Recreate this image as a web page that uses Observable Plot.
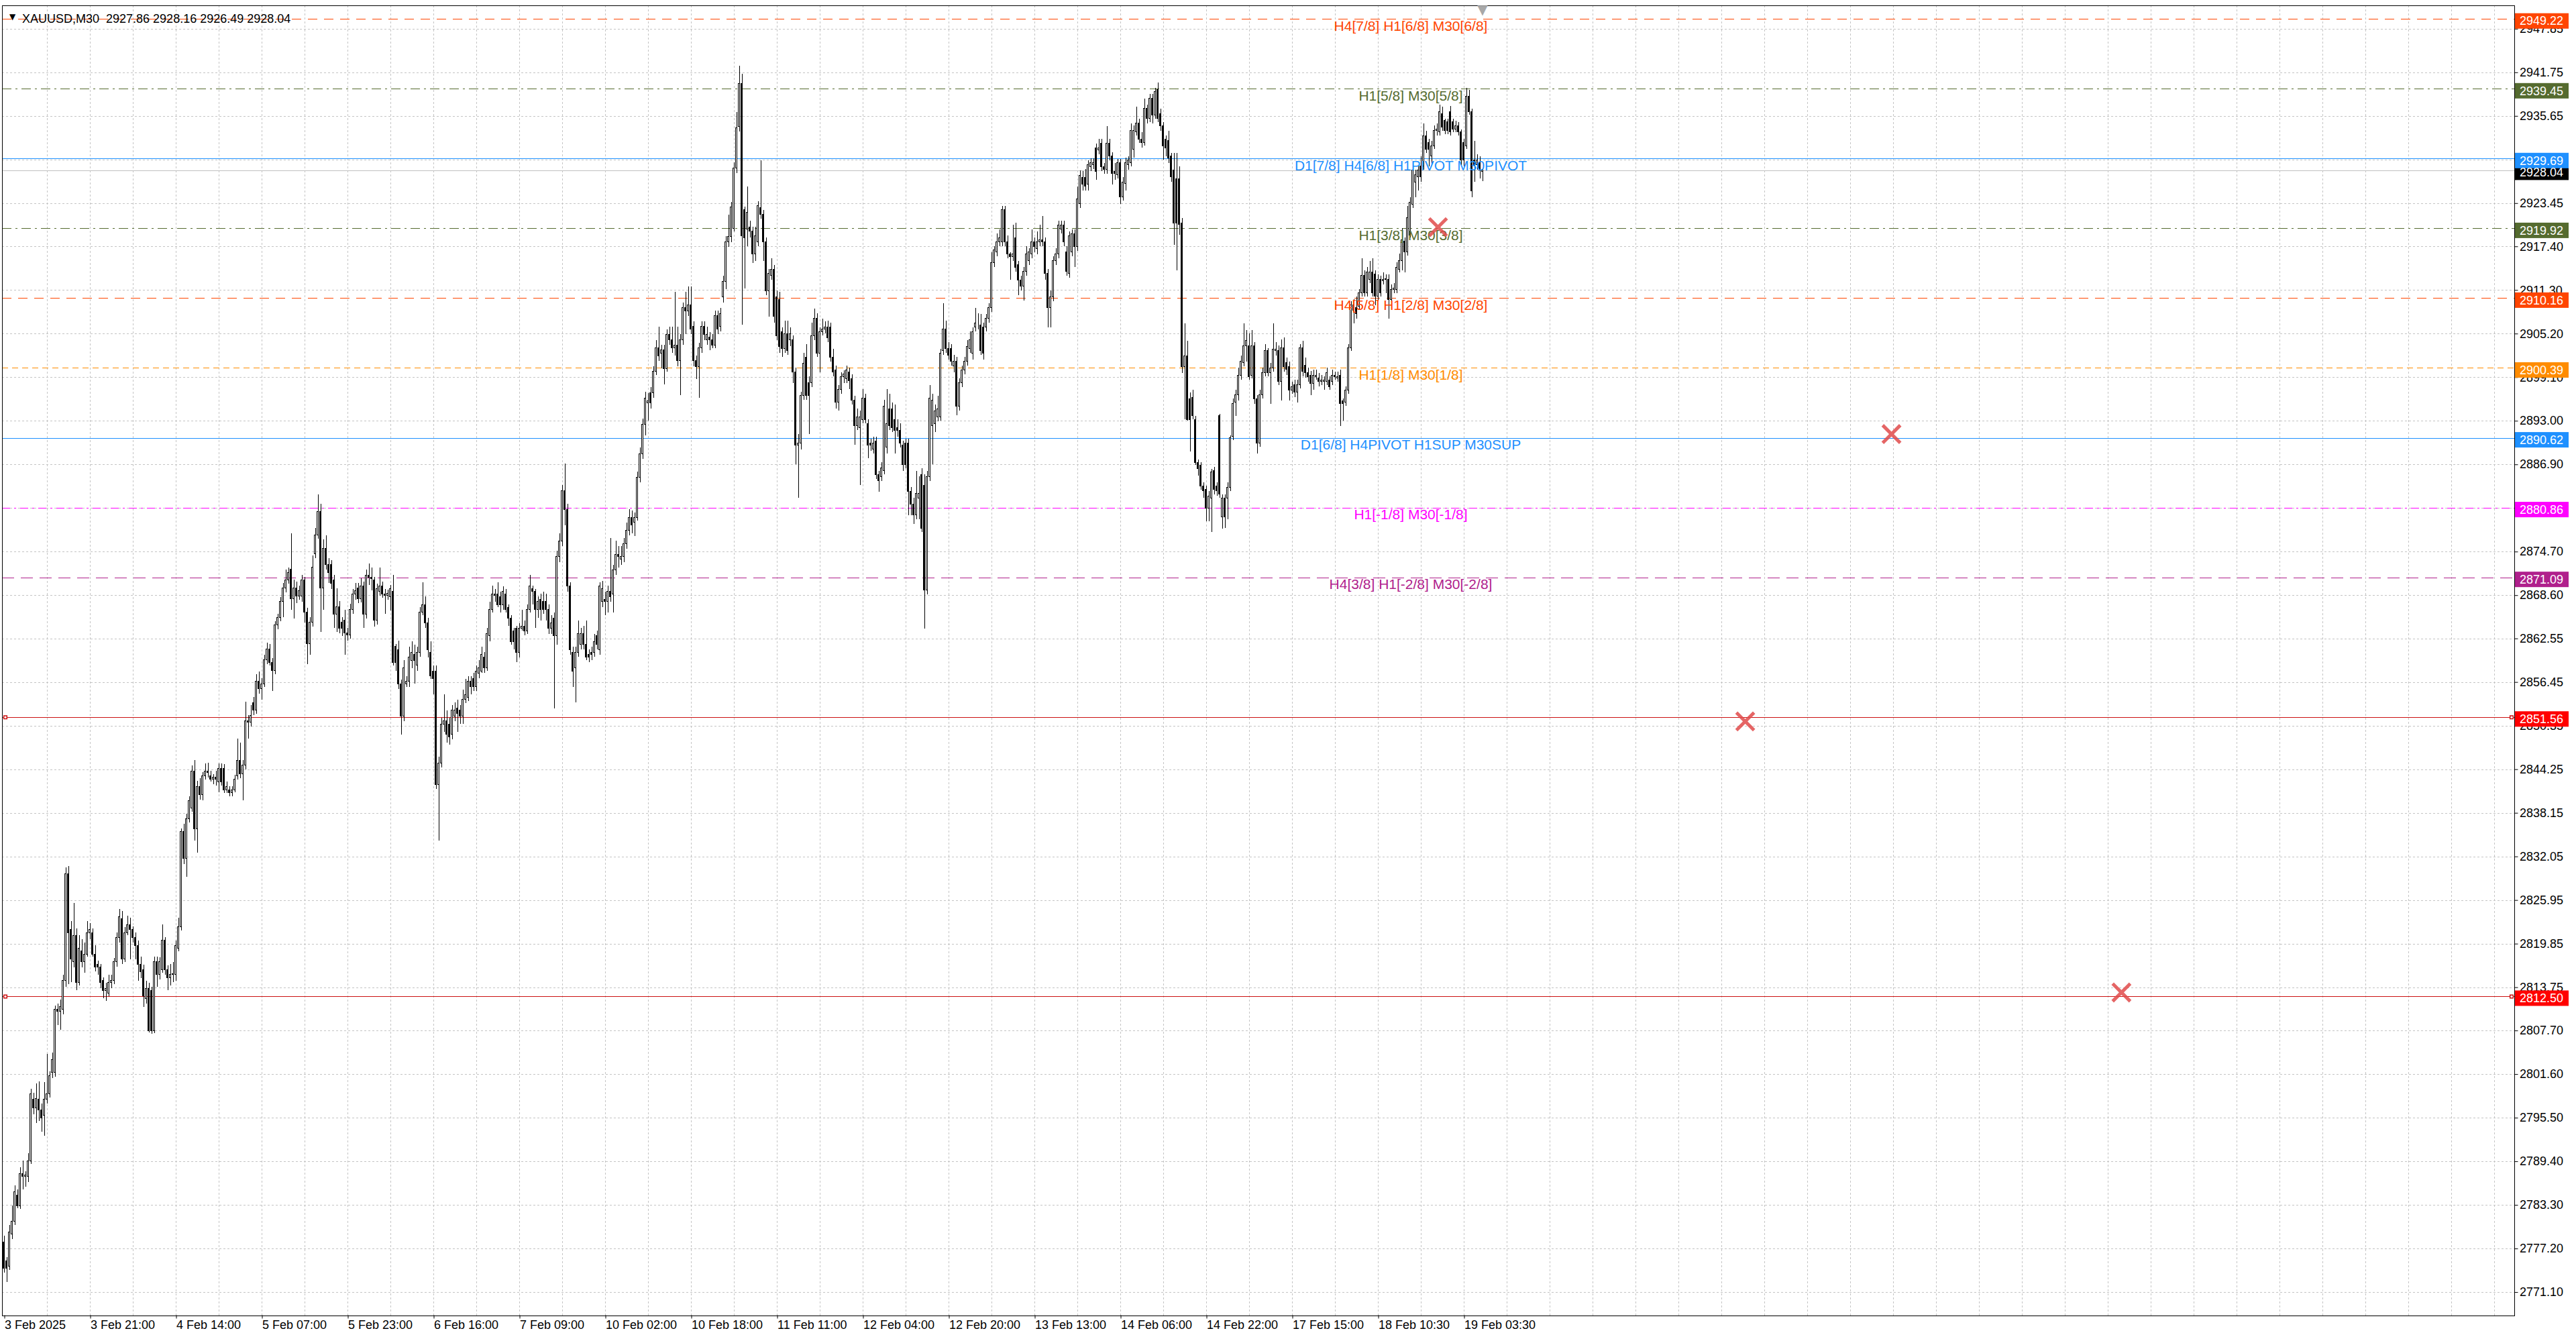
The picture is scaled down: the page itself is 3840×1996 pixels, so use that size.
<!DOCTYPE html>
<html><head><meta charset="utf-8">
<script src="https://cdn.jsdelivr.net/npm/d3@7"></script>
<script src="https://cdn.jsdelivr.net/npm/@observablehq/plot@0.6"></script>
<style>
html,body{margin:0;padding:0;background:#fff;}
#chart svg{display:block;}
</style></head>
<body><div id="chart"></div>
<script>
// ---- DATA (XAUUSD M30) ----
const candles = [
[2778.1,2779.0,2773.8,2774.4],[2775.5,2776.0,2772.5,2774.4],[2774.7,2780.5,2774.2,2779.5],[2779.2,2783.2,2778.5,2781.0],[2781.0,2786.0,2780.5,2785.1],
[2784.7,2785.5,2782.8,2783.2],[2783.2,2788.6,2782.7,2787.7],[2787.7,2789.5,2785.5,2787.3],[2787.3,2788.0,2785.8,2787.5],[2787.3,2790.5,2786.5,2789.5],
[2789.5,2799.5,2789.0,2798.8],[2798.1,2799.0,2796.0,2796.9],[2796.9,2800.3,2794.8,2798.2],[2798.1,2800.6,2795.0,2796.6],[2796.6,2797.5,2793.5,2795.5],
[2795.8,2800.5,2793.0,2798.1],[2798.1,2804.4,2797.5,2798.8],[2798.8,2802.0,2798.3,2801.4],[2801.8,2804.6,2801.0,2803.6],[2801.8,2811.2,2801.2,2810.7],
[2810.7,2811.5,2808.5,2810.4],[2810.4,2812.0,2807.8,2811.0],[2810.7,2815.5,2810.0,2814.7],[2814.7,2830.5,2813.8,2829.6],[2829.6,2830.7,2814.2,2821.4],
[2821.8,2823.0,2814.5,2817.7],[2817.3,2825.5,2816.5,2821.0],[2821.0,2822.0,2813.3,2814.4],[2814.4,2821.0,2814.0,2819.2],[2818.8,2820.5,2816.5,2817.3],
[2817.3,2820.0,2815.8,2818.4],[2818.4,2823.0,2818.0,2821.4],[2821.4,2822.7,2820.5,2821.8],[2821.4,2822.0,2818.0,2818.4],[2818.4,2819.6,2816.0,2816.6],
[2817.0,2817.5,2815.5,2816.6],[2816.6,2817.0,2813.6,2814.4],[2814.7,2815.1,2812.2,2813.3],[2813.3,2814.4,2811.8,2813.6],[2812.9,2815.5,2812.5,2814.4],
[2814.4,2815.5,2813.6,2814.7],[2814.7,2817.8,2814.2,2817.3],[2817.3,2821.4,2816.6,2820.7],[2820.7,2824.7,2820.0,2823.6],[2823.3,2824.4,2817.0,2817.7],
[2817.7,2822.2,2817.3,2821.4],[2821.4,2823.8,2821.0,2822.5],[2822.5,2823.5,2817.7,2821.8],[2821.8,2822.3,2820.0,2820.7],[2820.7,2821.4,2817.7,2819.6],
[2819.6,2820.3,2814.7,2817.0],[2817.0,2818.0,2815.0,2815.9],[2816.2,2816.9,2811.0,2812.5],[2812.2,2814.7,2811.5,2813.6],[2813.6,2814.4,2807.4,2807.7],
[2813.3,2813.8,2807.2,2807.7],[2807.7,2818.0,2807.3,2817.3],[2817.3,2818.0,2813.8,2815.5],[2815.5,2817.9,2814.8,2817.3],[2816.2,2822.5,2815.8,2820.3],
[2820.3,2820.8,2815.5,2816.2],[2816.2,2816.8,2813.3,2815.1],[2815.1,2817.0,2814.0,2815.5],[2815.5,2817.3,2814.5,2815.6],[2815.5,2820.3,2814.7,2819.6],
[2819.2,2823.5,2818.8,2822.2],[2822.2,2836.0,2821.7,2835.5],[2835.5,2836.6,2831.0,2831.8],[2831.8,2838.0,2829.2,2837.3],[2837.3,2840.5,2836.8,2839.9],
[2838.8,2844.8,2838.3,2844.0],[2844.0,2845.5,2834.3,2835.9],[2835.9,2842.6,2832.6,2841.8],[2841.8,2843.0,2840.0,2840.7],[2840.7,2843.8,2839.9,2843.3],
[2843.3,2845.1,2842.8,2844.0],[2844.0,2845.2,2843.1,2843.8],[2843.3,2844.0,2842.5,2842.9],[2842.9,2843.6,2842.2,2843.1],[2843.1,2844.0,2842.0,2842.9],
[2842.5,2845.1,2841.0,2844.4],[2844.4,2845.1,2842.0,2842.5],[2844.4,2845.0,2840.9,2841.4],[2841.4,2842.5,2840.9,2841.8],[2841.4,2841.9,2840.5,2841.0],
[2841.0,2841.9,2840.5,2841.4],[2841.4,2843.5,2841.0,2842.9],[2843.3,2848.5,2842.8,2845.5],[2845.5,2848.0,2843.0,2843.6],[2843.6,2845.5,2839.9,2844.8],
[2844.8,2853.7,2844.2,2851.0],[2851.0,2851.8,2848.5,2850.8],[2850.8,2853.2,2850.2,2851.8],[2853.6,2854.4,2851.8,2852.5],[2852.5,2857.5,2852.0,2856.6],
[2856.6,2857.9,2854.8,2855.5],[2855.5,2857.0,2854.0,2856.2],[2856.2,2860.3,2855.8,2859.6],[2859.6,2862.0,2859.0,2861.1],[2861.1,2861.8,2858.8,2859.2],
[2859.2,2859.8,2855.2,2858.1],[2858.1,2865.0,2857.5,2864.4],[2864.4,2866.0,2863.8,2865.5],[2865.5,2868.3,2865.0,2867.7],[2867.7,2870.3,2865.5,2869.6],
[2869.6,2872.2,2869.0,2870.7],[2870.7,2872.5,2870.2,2871.8],[2872.2,2877.3,2866.6,2868.1],[2868.1,2870.8,2865.3,2869.6],[2869.6,2870.5,2867.5,2868.5],
[2868.5,2869.9,2868.0,2869.2],[2868.5,2871.4,2867.7,2870.7],[2870.7,2871.2,2864.8,2866.2],[2866.2,2866.8,2859.0,2861.8],[2861.8,2865.5,2860.3,2864.8],
[2864.8,2874.2,2864.2,2872.5],[2874.4,2878.0,2873.8,2877.0],[2877.0,2882.7,2876.5,2880.3],[2880.3,2881.4,2863.5,2869.6],[2869.6,2876.4,2866.6,2875.1],
[2875.1,2877.0,2872.2,2872.9],[2872.9,2873.8,2870.3,2871.8],[2872.9,2873.5,2869.5,2870.3],[2870.7,2871.4,2864.0,2865.9],[2865.9,2869.6,2863.5,2867.0],
[2867.0,2867.8,2863.3,2864.0],[2864.8,2865.5,2862.9,2864.0],[2865.1,2866.6,2860.3,2863.3],[2863.3,2864.0,2862.2,2863.0],[2863.0,2867.4,2862.5,2866.6],
[2866.6,2869.5,2866.0,2868.8],[2868.8,2870.3,2868.0,2869.2],[2869.6,2870.3,2867.5,2868.1],[2868.1,2871.0,2867.6,2869.9],[2869.9,2870.5,2864.0,2865.9],
[2865.9,2872.2,2865.3,2871.4],[2871.4,2873.0,2870.0,2871.1],[2871.1,2872.5,2869.3,2870.9],[2870.7,2871.2,2864.2,2865.1],[2865.1,2870.2,2864.5,2869.5],
[2869.1,2872.5,2868.5,2869.9],[2869.9,2870.5,2868.2,2868.8],[2868.8,2869.5,2866.0,2868.6],[2868.6,2869.4,2868.0,2868.9],[2868.4,2870.0,2866.5,2869.5],
[2869.1,2871.4,2858.8,2859.2],[2861.4,2861.8,2858.0,2859.2],[2861.0,2862.2,2855.5,2856.2],[2856.2,2856.8,2849.1,2851.7],[2851.7,2859.5,2851.0,2858.4],
[2856.2,2857.3,2855.8,2856.6],[2856.6,2861.4,2855.8,2859.9],[2859.5,2862.1,2858.4,2860.6],[2860.3,2861.7,2856.2,2859.5],[2858.8,2861.4,2858.0,2860.6],
[2860.6,2866.9,2860.0,2866.2],[2866.2,2870.4,2865.8,2867.3],[2867.3,2868.4,2864.0,2864.7],[2864.7,2865.4,2859.9,2861.0],[2860.6,2862.1,2856.9,2857.3],
[2858.0,2858.8,2854.7,2856.9],[2858.0,2858.8,2841.5,2842.1],[2842.1,2846.0,2834.3,2845.1],[2845.1,2851.4,2844.5,2850.6],[2850.6,2854.7,2849.5,2851.0],
[2851.0,2852.5,2848.0,2849.1],[2850.6,2851.4,2847.7,2848.8],[2849.1,2853.2,2848.4,2852.5],[2851.7,2853.6,2851.0,2852.5],[2852.8,2854.0,2849.5,2852.1],
[2852.5,2853.2,2850.6,2851.7],[2851.7,2855.4,2850.6,2854.0],[2854.0,2856.9,2853.5,2854.7],[2854.3,2857.3,2853.8,2856.6],[2856.6,2857.3,2854.7,2855.8],
[2856.9,2857.7,2855.2,2855.8],[2855.8,2858.8,2855.2,2858.0],[2857.7,2859.5,2857.0,2858.4],[2858.0,2861.4,2857.7,2860.3],[2859.9,2860.6,2857.7,2858.4],
[2858.4,2864.0,2858.0,2863.2],[2862.9,2867.7,2862.1,2866.6],[2866.6,2869.9,2866.2,2868.8],[2868.8,2869.5,2867.7,2868.6],[2868.8,2870.4,2866.9,2867.3],
[2868.4,2869.1,2866.2,2867.3],[2867.3,2869.8,2866.6,2869.1],[2868.8,2869.5,2866.2,2866.6],[2866.9,2867.3,2864.3,2865.4],[2865.4,2865.8,2861.7,2862.1],
[2863.6,2864.0,2861.0,2862.1],[2864.0,2864.3,2859.2,2860.6],[2860.6,2864.7,2859.9,2864.0],[2864.0,2866.6,2863.6,2864.3],[2864.3,2865.1,2863.0,2863.6],
[2863.6,2867.3,2863.2,2866.6],[2866.6,2871.4,2866.2,2869.9],[2869.5,2869.9,2867.3,2869.1],[2869.1,2869.5,2864.0,2866.6],[2866.6,2868.4,2865.4,2867.7],
[2868.0,2868.8,2865.1,2866.6],[2867.7,2869.1,2866.0,2866.6],[2867.7,2868.8,2865.1,2866.6],[2866.6,2867.3,2863.2,2864.0],[2864.0,2865.8,2863.2,2864.7],
[2865.4,2866.2,2852.8,2862.9],[2862.9,2874.8,2861.7,2874.0],[2874.0,2877.3,2873.2,2876.2],[2876.2,2884.0,2875.5,2883.2],[2883.2,2887.0,2878.4,2880.6],
[2880.6,2881.4,2869.1,2869.9],[2869.9,2870.4,2860.3,2861.0],[2860.6,2861.4,2855.8,2858.0],[2858.4,2861.4,2853.6,2860.6],[2860.6,2865.1,2860.0,2863.2],
[2861.7,2864.0,2861.0,2863.2],[2863.2,2864.3,2861.0,2861.7],[2861.7,2865.1,2859.5,2859.9],[2860.3,2861.0,2859.2,2859.9],[2860.6,2861.4,2859.5,2860.3],
[2860.6,2863.2,2860.0,2862.1],[2862.9,2863.6,2861.0,2861.7],[2861.0,2870.4,2860.3,2869.9],[2867.7,2870.6,2866.9,2869.5],[2868.0,2869.1,2865.8,2867.7],
[2867.7,2869.9,2866.2,2869.1],[2869.1,2876.6,2867.7,2868.4],[2868.8,2872.8,2866.2,2872.1],[2872.1,2876.2,2871.4,2874.3],[2874.3,2875.5,2872.5,2874.0],
[2873.6,2875.5,2872.8,2874.0],[2874.0,2876.6,2873.2,2875.8],[2875.8,2878.8,2875.1,2877.7],[2877.7,2880.6,2877.0,2879.5],[2879.5,2880.4,2877.3,2878.4],
[2878.8,2880.2,2876.9,2879.5],[2879.5,2885.9,2879.0,2885.1],[2885.1,2889.3,2884.4,2888.4],[2888.4,2893.3,2887.7,2892.5],[2892.5,2897.1,2891.0,2896.2],
[2895.5,2896.9,2893.0,2895.8],[2896.9,2897.7,2894.7,2895.5],[2896.9,2900.6,2896.2,2899.9],[2899.9,2904.3,2899.4,2903.2],[2903.2,2906.2,2901.4,2902.1],
[2902.5,2903.6,2900.3,2902.9],[2902.9,2903.6,2898.1,2900.3],[2900.3,2905.8,2899.9,2905.1],[2905.1,2906.2,2903.6,2904.3],[2904.3,2906.2,2902.5,2903.2],
[2903.2,2911.0,2902.1,2903.6],[2903.6,2906.2,2900.6,2901.4],[2901.4,2905.1,2896.6,2904.3],[2904.3,2909.5,2903.6,2908.8],[2908.8,2911.0,2905.1,2908.4],
[2908.4,2911.8,2907.7,2909.2],[2909.2,2911.8,2905.1,2905.8],[2906.2,2906.9,2900.6,2901.4],[2901.4,2902.1,2898.8,2900.6],[2900.6,2903.9,2896.2,2903.2],
[2903.2,2906.9,2902.5,2906.2],[2906.2,2906.9,2904.3,2905.1],[2904.3,2906.2,2903.6,2905.1],[2904.7,2905.4,2902.9,2904.3],[2904.3,2905.1,2903.2,2903.6],
[2903.6,2908.4,2903.2,2907.7],[2907.7,2908.4,2905.1,2905.8],[2906.2,2908.8,2905.5,2908.0],[2910.3,2913.3,2909.5,2912.5],[2912.5,2918.8,2911.4,2918.0],
[2918.0,2921.8,2917.3,2918.8],[2918.8,2923.6,2918.0,2922.9],[2919.9,2929.2,2919.5,2928.4],[2928.4,2936.2,2927.7,2934.0],[2934.2,2942.7,2933.5,2940.2],
[2940.2,2941.5,2906.4,2918.9],[2922.5,2923.0,2911.5,2918.6],[2919.8,2925.8,2917.4,2922.2],[2920.1,2921.0,2918.6,2919.5],[2919.5,2920.1,2915.1,2916.3],
[2916.3,2920.1,2915.4,2918.9],[2918.0,2923.7,2917.4,2923.1],[2922.8,2929.4,2921.3,2921.9],[2921.9,2922.5,2915.4,2918.0],[2918.0,2918.6,2910.6,2911.2],
[2911.2,2914.2,2907.6,2913.6],[2913.3,2915.7,2912.7,2914.2],[2914.2,2914.8,2906.7,2907.6],[2910.3,2911.2,2904.3,2904.9],[2910.0,2911.0,2902.5,2903.4],
[2905.5,2906.1,2901.9,2903.1],[2903.1,2907.0,2902.5,2905.2],[2905.2,2907.0,2902.2,2902.8],[2904.3,2906.1,2903.4,2905.2],[2904.3,2904.9,2898.3,2899.8],
[2899.8,2900.4,2886.9,2889.6],[2889.6,2891.1,2882.2,2889.9],[2889.9,2897.1,2889.0,2896.5],[2896.5,2902.5,2895.9,2901.0],[2901.9,2903.7,2895.9,2896.5],
[2898.3,2899.2,2891.1,2896.5],[2898.3,2906.7,2897.7,2904.9],[2904.9,2908.7,2904.3,2907.3],[2907.3,2908.0,2901.9,2902.5],[2902.5,2906.1,2899.8,2905.5],
[2905.5,2907.3,2904.9,2905.8],[2905.8,2906.9,2905.2,2906.1],[2906.1,2907.0,2904.0,2904.6],[2906.1,2906.7,2901.3,2901.9],[2901.9,2903.1,2899.2,2899.8],
[2900.1,2900.7,2894.7,2895.6],[2895.6,2898.0,2894.4,2897.4],[2897.4,2899.8,2896.8,2899.2],[2899.2,2900.1,2898.3,2899.5],[2898.9,2900.7,2898.3,2900.1],
[2899.8,2900.4,2897.4,2898.6],[2898.9,2899.5,2895.3,2895.9],[2895.9,2896.5,2889.6,2892.3],[2892.3,2894.7,2891.7,2893.5],[2892.0,2894.4,2884.0,2893.5],
[2893.2,2897.4,2892.6,2896.2],[2896.2,2896.8,2892.6,2893.2],[2892.6,2893.2,2887.8,2889.6],[2889.9,2890.5,2888.8,2889.6],[2889.0,2890.8,2888.4,2889.9],
[2890.2,2890.8,2884.9,2885.5],[2885.5,2886.0,2883.1,2884.6],[2885.2,2887.2,2884.6,2886.4],[2886.0,2895.9,2885.5,2895.0],[2889.3,2897.4,2888.4,2892.6],
[2894.7,2896.8,2891.7,2892.3],[2894.7,2895.6,2891.4,2892.0],[2893.2,2895.3,2888.4,2891.7],[2892.0,2893.2,2890.8,2891.7],[2891.7,2892.6,2889.3,2889.9],
[2889.6,2890.2,2886.0,2886.9],[2889.9,2890.5,2886.4,2886.9],[2889.9,2890.5,2879.8,2883.1],[2883.1,2883.7,2879.8,2881.3],[2881.3,2882.2,2878.6,2879.8],
[2879.8,2886.0,2879.2,2882.8],[2882.2,2885.2,2879.2,2882.8],[2885.5,2886.4,2877.4,2878.0],[2884.0,2885.5,2863.9,2869.3],[2869.3,2886.0,2868.7,2885.2],
[2885.2,2898.0,2884.6,2896.2],[2892.3,2896.8,2886.9,2895.9],[2892.6,2895.3,2891.4,2894.4],[2893.5,2896.5,2892.9,2894.7],[2893.5,2903.1,2893.0,2902.5],
[2902.8,2909.4,2902.2,2905.8],[2905.8,2907.0,2902.5,2903.1],[2903.1,2904.0,2901.6,2902.2],[2903.1,2903.7,2900.7,2901.3],[2900.7,2902.2,2899.8,2901.3],
[2901.3,2901.9,2893.8,2895.0],[2895.0,2898.9,2894.4,2898.3],[2898.3,2900.7,2897.7,2900.1],[2900.1,2901.9,2899.5,2901.3],[2901.3,2904.3,2900.7,2903.4],
[2903.1,2905.5,2902.5,2904.3],[2902.5,2906.1,2901.6,2905.5],[2906.1,2908.8,2905.5,2906.7],[2906.7,2908.0,2905.8,2906.7],[2906.4,2907.9,2902.2,2902.8],
[2906.1,2906.7,2901.6,2902.5],[2906.1,2907.9,2905.5,2907.3],[2907.3,2909.4,2906.7,2908.8],[2908.8,2916.6,2908.2,2915.1],[2915.1,2917.4,2914.5,2916.9],
[2916.6,2919.2,2916.0,2918.0],[2918.0,2919.8,2917.4,2918.6],[2918.0,2923.1,2917.4,2922.5],[2922.5,2923.1,2917.4,2918.0],[2918.0,2918.9,2915.7,2916.3],
[2916.3,2916.6,2912.7,2916.0],[2916.0,2920.4,2915.4,2916.3],[2918.6,2920.7,2913.9,2914.5],[2914.8,2915.4,2910.6,2912.7],[2912.7,2913.3,2911.2,2911.8],
[2911.8,2914.5,2909.8,2913.9],[2913.9,2917.4,2913.3,2916.3],[2915.4,2917.1,2914.8,2916.6],[2916.3,2919.8,2915.7,2918.0],[2918.0,2918.6,2916.6,2917.4],
[2917.1,2919.5,2916.3,2918.0],[2918.0,2920.4,2917.4,2918.3],[2918.3,2921.6,2917.4,2918.0],[2918.0,2918.6,2912.7,2913.6],[2913.6,2914.2,2906.1,2908.8],
[2908.8,2911.2,2906.1,2910.3],[2910.3,2916.0,2909.7,2915.4],[2915.4,2917.1,2914.8,2916.3],[2916.3,2921.0,2915.7,2920.4],[2919.8,2921.0,2919.2,2920.4],
[2920.4,2921.0,2917.4,2918.0],[2916.6,2917.4,2913.3,2913.9],[2913.6,2919.5,2913.0,2918.9],[2916.6,2919.8,2916.0,2919.2],[2919.2,2919.8,2914.5,2917.4],
[2917.4,2925.8,2916.8,2924.0],[2923.4,2928.0,2922.8,2927.3],[2927.0,2927.9,2925.2,2926.1],[2927.0,2928.2,2925.2,2925.8],[2926.1,2929.4,2925.2,2928.8],
[2928.5,2929.7,2927.9,2929.1],[2928.8,2929.7,2928.2,2929.1],[2931.2,2931.8,2926.7,2927.9],[2930.9,2932.4,2930.3,2931.2],[2931.8,2932.4,2927.9,2928.5],
[2928.5,2929.1,2927.6,2928.2],[2928.2,2934.2,2927.6,2931.8],[2931.8,2932.4,2929.4,2930.0],[2930.0,2930.6,2926.1,2927.6],[2927.9,2929.1,2926.7,2927.6],
[2927.4,2929.6,2926.9,2929.1],[2929.1,2929.6,2923.3,2924.3],[2924.3,2927.1,2923.8,2926.4],[2926.2,2929.8,2925.2,2929.1],[2928.8,2930.0,2928.1,2929.5],
[2929.1,2934.6,2928.6,2933.6],[2931.0,2934.3,2929.8,2933.6],[2933.4,2936.9,2932.9,2934.6],[2934.6,2935.3,2931.9,2932.4],[2932.4,2933.4,2931.2,2931.9],
[2931.9,2938.1,2931.5,2936.7],[2936.7,2937.2,2934.6,2935.3],[2935.3,2938.7,2934.8,2938.1],[2938.1,2938.7,2934.6,2935.8],[2935.8,2939.6,2935.3,2939.1],
[2939.3,2940.3,2934.8,2935.3],[2936.0,2936.7,2933.6,2934.3],[2934.3,2934.8,2929.5,2931.5],[2932.4,2932.9,2930.0,2931.2],[2932.2,2933.6,2929.1,2929.8],
[2930.0,2930.5,2926.4,2927.1],[2928.1,2930.5,2917.6,2920.7],[2926.9,2930.5,2914.0,2920.7],[2926.9,2928.6,2919.0,2920.5],[2920.7,2921.4,2899.7,2900.6],
[2900.6,2906.6,2893.2,2902.1],[2902.1,2904.2,2893.0,2893.2],[2896.1,2897.0,2888.7,2893.2],[2896.3,2897.3,2893.2,2893.7],[2893.2,2893.7,2886.8,2887.2],
[2887.2,2887.6,2885.3,2886.3],[2886.8,2887.2,2883.4,2883.9],[2883.9,2884.4,2882.2,2883.2],[2883.4,2883.9,2878.9,2880.8],[2880.8,2883.2,2878.9,2882.5],
[2882.2,2886.3,2877.4,2885.8],[2886.0,2886.5,2882.7,2883.4],[2883.9,2884.4,2882.5,2883.2],[2893.7,2894.0,2882.2,2882.7],[2879.6,2882.7,2877.9,2882.2],
[2882.2,2882.7,2878.0,2879.6],[2882.2,2884.4,2879.2,2883.7],[2883.7,2891.0,2883.2,2890.6],[2890.8,2896.1,2890.3,2895.4],[2895.6,2897.3,2893.7,2896.6],
[2896.6,2900.4,2895.8,2899.4],[2899.4,2902.1,2898.7,2901.3],[2901.1,2906.6,2900.6,2903.5],[2903.5,2905.7,2901.3,2904.2],[2903.5,2905.2,2898.7,2899.2],
[2899.4,2905.7,2898.9,2903.5],[2903.5,2904.0,2895.4,2896.1],[2896.1,2896.6,2888.4,2889.9],[2889.9,2897.3,2889.4,2896.6],[2896.6,2900.4,2896.1,2899.7],
[2899.7,2903.7,2899.2,2902.8],[2902.8,2903.2,2899.2,2899.7],[2899.7,2901.1,2895.4,2900.4],[2900.4,2906.6,2899.9,2903.0],[2902.8,2904.0,2902.1,2903.0],
[2902.8,2903.5,2898.0,2898.5],[2898.5,2904.4,2895.8,2903.2],[2903.2,2904.7,2899.9,2900.6],[2901.1,2901.8,2899.4,2900.2],[2900.6,2901.3,2895.8,2897.3],
[2897.3,2898.5,2896.8,2897.8],[2898.0,2898.7,2896.3,2897.0],[2897.0,2898.7,2895.6,2898.0],[2898.0,2903.7,2897.5,2903.2],[2903.2,2904.2,2899.2,2899.9],
[2900.8,2901.8,2899.0,2899.7],[2899.7,2900.4,2898.5,2899.2],[2899.4,2900.0,2896.6,2898.2],[2898.2,2900.2,2897.3,2899.4],[2899.2,2900.2,2898.7,2899.4],
[2899.0,2899.7,2897.8,2898.5],[2898.5,2899.4,2898.0,2898.7],[2898.5,2899.2,2897.3,2898.7],[2898.5,2900.4,2898.0,2899.7],[2898.7,2899.2,2897.3,2897.8],
[2898.5,2900.2,2898.0,2899.4],[2899.4,2899.9,2898.7,2899.2],[2899.0,2899.9,2898.5,2899.2],[2899.4,2900.2,2892.3,2895.4],[2895.8,2896.1,2893.0,2895.4],
[2895.6,2897.8,2895.1,2897.3],[2897.3,2903.7,2896.8,2903.2],[2903.2,2909.7,2902.8,2909.2],[2908.5,2910.0,2906.6,2909.2],[2908.8,2910.4,2907.3,2908.0],
[2909.0,2911.4,2908.5,2910.9],[2910.9,2915.7,2910.4,2913.3],[2913.3,2914.0,2910.4,2910.9],[2910.9,2914.5,2910.4,2913.8],[2912.8,2915.4,2912.3,2913.8],
[2913.8,2915.7,2910.4,2910.9],[2913.5,2914.0,2909.2,2910.4],[2910.4,2913.5,2909.7,2912.8],[2912.8,2913.3,2910.4,2910.9],[2912.6,2913.8,2912.1,2912.8],
[2912.8,2913.5,2910.9,2912.9],[2912.8,2913.5,2907.3,2910.0],[2910.0,2912.1,2909.7,2911.4],[2911.4,2912.3,2910.9,2911.6],[2911.4,2915.2,2910.9,2914.5],
[2914.2,2916.4,2913.8,2915.4],[2915.4,2920.0,2914.0,2918.3],[2918.1,2918.6,2913.8,2916.6],[2916.6,2923.1,2916.1,2921.4],[2919.0,2924.3,2918.6,2923.6],
[2923.3,2929.1,2922.8,2928.1],[2926.4,2928.1,2924.3,2927.4],[2927.1,2928.8,2925.2,2928.1],[2928.6,2930.0,2926.4,2927.1],[2928.6,2934.6,2928.1,2932.9],
[2932.9,2933.6,2930.5,2931.0],[2931.9,2932.4,2928.6,2931.0],[2930.0,2932.2,2928.8,2931.5],[2931.5,2934.3,2931.0,2933.6],[2933.6,2934.6,2932.9,2933.8],
[2933.4,2937.2,2932.9,2936.2],[2936.0,2936.9,2933.6,2934.1],[2935.0,2935.3,2933.1,2933.6],[2934.8,2935.3,2933.1,2933.6],[2936.2,2937.0,2932.9,2933.4],
[2934.8,2935.3,2933.4,2933.8],[2933.8,2935.0,2933.4,2934.3],[2934.3,2934.8,2932.9,2933.4],[2933.4,2933.8,2928.8,2929.5],[2931.9,2932.4,2928.6,2929.5],
[2931.5,2939.6,2931.0,2938.4],[2938.4,2939.3,2935.8,2936.2],[2936.2,2936.7,2924.3,2925.2],[2929.5,2932.2,2926.4,2928.8],[2928.8,2930.3,2928.1,2929.5],
[2929.1,2930.0,2926.9,2928.1],[2927.86,2928.16,2926.49,2928.04]
];

const timeTickBars = [0,32,64,96,128,160,192,224,256,288,320,352,384,416,448,480,512,544];
const timeLabels = ["3 Feb 2025","3 Feb 21:00","4 Feb 14:00","5 Feb 07:00","5 Feb 23:00","6 Feb 16:00","7 Feb 09:00","10 Feb 02:00","10 Feb 18:00","11 Feb 11:00","12 Feb 04:00","12 Feb 20:00","13 Feb 13:00","14 Feb 06:00","14 Feb 22:00","17 Feb 15:00","18 Feb 10:30","19 Feb 03:30"];

const priceTicks = [2947.85,2941.75,2935.65,2929.55,2923.45,2917.40,2911.30,2905.20,2899.10,2893.00,2886.90,2880.80,2874.70,2868.60,2862.55,2856.45,2850.35,2844.25,2838.15,2832.05,2825.95,2819.85,2813.75,2807.70,2801.60,2795.50,2789.40,2783.30,2777.20,2771.10];

const levelPrices = [2949.22,2939.45,2929.69,2919.92,2910.16,2900.39,2890.62,2880.86,2871.09];
const levelNames  = ["H4[7/8] H1[6/8] M30[6/8]","H1[5/8] M30[5/8]","D1[7/8] H4[6/8] H1PIVOT M30PIVOT","H1[3/8] M30[3/8]","H4[5/8] H1[2/8] M30[2/8]","H1[1/8] M30[1/8]","D1[6/8] H4PIVOT H1SUP M30SUP","H1[-1/8] M30[-1/8]","H4[3/8] H1[-2/8] M30[-2/8]"];
const levelColors = ["#ff4500","#556b2f","#1e90ff","#556b2f","#ff4500","#ff8c00","#1e90ff","#ff00ff","#b0208c"];
const levelDashes = ["14,10","14,6,3,6",null,"14,6,3,6","14,10","9,6",null,"12,6,3,6","18,10"];

const redLevels = [2851.56, 2812.50];
const currentPrice = 2928.04;
const header = "XAUUSD,M30\u00a0\u00a02927.86 2928.16 2926.49 2928.04";

const crossBars   = [534.4, 648.9, 703.4, 789.1];
const crossPrices = [2920.14, 2850.98, 2891.19, 2813.06];

// ---- LAYOUT ----
const W = 3840, H = 1996;
const mL = 2.5, mR = 92.5, mT = 7.5, mB = 35.5;
const barPx = 4, bar0Px = 5.5;
const pxPerPrice = 10.655, refPx = 107.8, refPrice = 2941.75;
const xDomain = [(mL - bar0Px) / barPx, (W - mR - bar0Px) / barPx];
const yDomain = [refPrice - (H - mB - refPx) / pxPerPrice, refPrice + (refPx - mT) / pxPerPrice];
const pxToBar = px => (px - bar0Px) / barPx;
const dPrice = px => px / pxPerPrice;

const bars = candles.map((d, i) => ({i, o: d[0], h: d[1], l: d[2], c: d[3]}));
const bull = bars.filter(d => d.c >= d.o);
const bear = bars.filter(d => d.c < d.o);

const levels = levelPrices.map((p, k) => ({p, name: levelNames[k], color: levelColors[k], dash: levelDashes[k]}));
const boxes = [
  ...levels.slice(0, 2).map(d => ({p: d.p, color: d.color})),
  {p: currentPrice, color: "#000000"},
  ...levels.slice(2).map(d => ({p: d.p, color: d.color})),
  ...redLevels.map(p => ({p, color: "#ff0000"}))
];
const crosses = crossBars.map((b, k) => ({b, p: crossPrices[k]}));

const font = "Liberation Sans, Arial, sans-serif";
const labelBar = pxToBar(2102.5);
const boxL = pxToBar(3749), boxR = pxToBar(3829), boxText = pxToBar(3755.5);
const crisp = {shapeRendering: "crispEdges"};

const chart = Plot.plot({
  width: W, height: H,
  marginLeft: mL, marginRight: mR, marginTop: mT, marginBottom: mB,
  style: {fontFamily: font, background: "#ffffff", overflow: "visible"},
  x: {type: "linear", domain: xDomain, axis: null},
  y: {type: "linear", domain: yDomain, axis: null},
  marks: [
    Plot.gridY({ticks: priceTicks, stroke: "#c4c4c4", strokeOpacity: 1, strokeDasharray: "3,3", ...crisp}),
    Plot.gridX({ticks: d3.range(16, xDomain[1], 16), stroke: "#c4c4c4", strokeOpacity: 1, strokeDasharray: "3,3", ...crisp}),
    Plot.ruleY([currentPrice], {stroke: "#c0c0c0", strokeWidth: 1, ...crisp}),
    ...levels.map(L => Plot.ruleY([L.p], {stroke: L.color, strokeWidth: 1, strokeDasharray: L.dash || undefined, ...crisp})),
    Plot.ruleY(redLevels, {stroke: "#cc1010", strokeWidth: 1, ...crisp}),
    Plot.dot(redLevels, {y: d => d, frameAnchor: "left", dx: 5, symbol: "square", r: 2.6, fill: "white", stroke: "#cc1010"}),
    Plot.dot(redLevels, {y: d => d, frameAnchor: "right", dx: -4, symbol: "square", r: 2.6, fill: "white", stroke: "#cc1010"}),
    Plot.ruleX(bars, {x: "i", y1: "l", y2: "h", stroke: "black", strokeWidth: 1, ...crisp}),
    Plot.rect(bull, {x1: d => d.i - 0.25, x2: d => d.i + 0.25, y1: "o", y2: "c", fill: "white", stroke: "black", strokeWidth: 1, ...crisp}),
    Plot.rect(bear, {x1: d => d.i - 0.25, x2: d => d.i + 0.25, y1: "c", y2: "o", fill: "black", stroke: "black", strokeWidth: 1, ...crisp}),
    Plot.text(levels, {x: labelBar, y: "p", text: "name", fill: "color", dy: 10.5, fontSize: 21, textAnchor: "middle"}),
    Plot.dot(crosses, {x: "b", y: "p", symbol: "times", r: 12, stroke: "#e04a4a", strokeWidth: 5, strokeOpacity: 0.85}),
    Plot.frame({stroke: "black", strokeWidth: 1, ...crisp}),
    Plot.axisY({anchor: "right", ticks: priceTicks, tickFormat: d => d.toFixed(2), tickSize: 5, tickPadding: 3, fontSize: 18, label: null, textAnchor: "start"}),
    Plot.axisX({anchor: "bottom", ticks: timeTickBars, tickFormat: d => timeLabels[timeTickBars.indexOf(d)], tickSize: 5, tickPadding: 2, fontSize: 18, label: null, textAnchor: "start", dx: 1}),
    Plot.rect(boxes, {x1: boxL, x2: boxR, y1: d => d.p - dPrice(14.5), y2: d => d.p + dPrice(8.5), fill: "color"}),
    Plot.text(boxes, {x: boxText, y: "p", dy: 3, text: d => d.p.toFixed(2), fill: "white", fontSize: 18, textAnchor: "start"}),
    Plot.text(["\u25BC"], {frameAnchor: "top-left", dx: 11, dy: 12, fontSize: 12, fill: "black", fontFamily: "DejaVu Sans"}),
    Plot.text([header], {frameAnchor: "top-left", dx: 30, dy: 13, fontSize: 18, fill: "black", textAnchor: "start"}),
    Plot.text(["\u25BC"], {x: [bars.length - 1], frameAnchor: "top", dy: -1, fontSize: 20, fill: "#a8a8a8", fontFamily: "DejaVu Sans"})
  ]
});
document.getElementById("chart").appendChild(chart);
</script>
</body></html>
